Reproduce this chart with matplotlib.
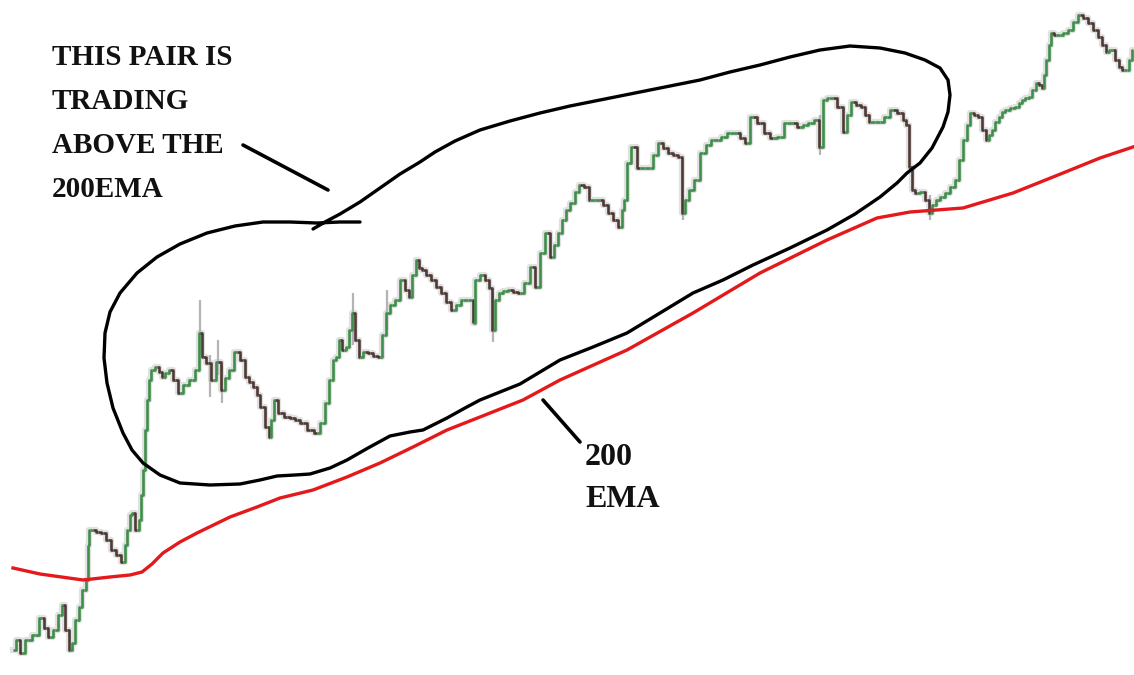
import numpy as np
import matplotlib.pyplot as plt
from matplotlib.collections import LineCollection
from matplotlib.transforms import Affine2D

W, H = 1134, 675

# bar position (time) and close level
bar_x = [13, 18, 22, 28, 35, 42, 46, 50, 55, 60, 63, 67, 70, 73, 77, 80, 84, 87, 88, 90,
         93, 98, 103, 108, 113, 118, 123, 126, 128, 131, 133, 137, 140, 142, 144, 146, 148, 150, 152, 157,
         160, 163, 167, 170, 175, 180, 186, 192, 197, 200, 203, 208, 213, 218, 223, 227, 230, 237, 243, 247,
         251, 255, 258, 262, 267, 270, 272, 275, 280, 287, 292, 297, 303, 310, 317, 322, 327, 331, 334, 337,
         340, 344, 347, 350, 353, 357, 360, 365, 370, 375, 380, 384, 387, 392, 397, 403, 407, 410, 414, 417,
         420, 423, 428, 433, 438, 443, 448, 453, 458, 463, 468, 472, 473, 477, 483, 487, 490, 493, 497, 500,
         505, 510, 515, 520, 527, 532, 537, 542, 547, 552, 556, 560, 564, 567, 573, 577, 580, 587, 590, 595,
         600, 605, 610, 615, 620, 623, 625, 628, 633, 640, 645, 650, 655, 660, 665, 670, 675, 680, 683, 687,
         690, 697, 703, 708, 713, 718, 723, 730, 737, 742, 747, 753, 760, 767, 773, 780, 787, 793, 800, 805,
         810, 817, 820, 825, 829, 833, 840, 845, 849, 853, 858, 863, 867, 870, 875, 880, 887, 893, 900, 905,
         907, 910, 913, 917, 923, 927, 930, 934, 937, 942, 947, 952, 957, 961, 965, 968, 972, 976, 980, 984,
         987, 990, 993, 997, 1000, 1003, 1007, 1012, 1017, 1020, 1023, 1027, 1030, 1034, 1037, 1040, 1043, 1045, 1047, 1050,
         1052, 1056, 1060, 1065, 1070, 1075, 1080, 1085, 1090, 1095, 1100, 1104, 1107, 1110, 1113, 1117, 1120, 1124, 1127, 1130,
         1133]
close = [25, 35, 22, 35, 40, 57, 47, 38, 45, 60, 70, 45, 25, 32, 55, 68, 85, 95, 130, 145,
         145, 143, 142, 135, 125, 120, 113, 130, 145, 160, 162, 145, 155, 180, 205, 245, 275, 295, 305, 308,
         303, 298, 302, 305, 295, 282, 290, 295, 305, 342, 318, 312, 295, 313, 285, 297, 305, 323, 315, 298,
         293, 288, 280, 268, 248, 238, 255, 275, 262, 258, 257, 255, 252, 245, 242, 252, 272, 295, 315, 318,
         335, 325, 328, 345, 362, 335, 318, 323, 322, 319, 318, 340, 362, 370, 375, 395, 385, 378, 400, 415,
         407, 405, 400, 395, 388, 382, 373, 365, 370, 375, 375, 375, 352, 395, 400, 395, 387, 345, 375, 382,
         384, 385, 383, 382, 392, 408, 388, 422, 442, 418, 430, 442, 455, 465, 472, 483, 490, 488, 475, 475,
         475, 470, 462, 455, 448, 465, 475, 512, 528, 507, 507, 507, 520, 532, 527, 522, 520, 518, 462, 475,
         485, 495, 522, 530, 535, 535, 538, 542, 542, 537, 532, 558, 552, 542, 537, 538, 552, 552, 548, 550,
         552, 555, 528, 575, 577, 577, 568, 543, 560, 573, 570, 568, 560, 553, 553, 553, 558, 565, 562, 555,
         550, 508, 485, 482, 483, 475, 462, 470, 475, 478, 482, 488, 495, 515, 535, 550, 562, 560, 558, 545,
         535, 540, 545, 553, 558, 563, 565, 567, 568, 572, 575, 577, 578, 585, 592, 590, 587, 600, 615, 630,
         642, 640, 640, 642, 645, 653, 660, 657, 652, 645, 638, 630, 623, 625, 625, 615, 608, 605, 605, 615,
         625]

# a few long wicks (bar position, low, high)
wick_x = [200, 210, 218, 222, 353, 387, 493, 683, 820, 930]
wick_lo = [320, 278, 300, 272, 330, 345, 333, 455, 520, 455]
wick_hi = [375, 320, 335, 310, 382, 385, 382, 480, 560, 480]

# 200 EMA
ema_x = [13, 40, 83, 110, 130, 142, 152, 163, 180, 197, 230, 257, 280, 313, 347, 380, 413, 447, 480, 523,
         560, 627, 693, 760, 827, 877, 910, 963, 1013, 1063, 1100, 1133]
ema = [107, 101, 95, 98, 100, 103, 111, 122, 133, 142, 158, 168, 177, 185, 198, 212, 228, 245, 258, 275,
       295, 325, 362, 402, 435, 457, 463, 467, 482, 502, 517, 528]

# hand drawn loop (x right, y down from the top edge)
loop_pts = [(360, 222), (340, 222), (317, 223), (290, 222), (263, 222), (235, 226), (207, 233), (180, 244),
            (157, 257), (137, 273), (120, 293), (110, 312), (105, 333), (104, 358), (107, 383), (113, 408),
            (123, 433), (132, 450), (143, 463), (160, 475), (180, 483), (210, 485), (240, 484), (260, 480),
            (277, 476), (295, 475), (310, 474), (330, 468), (347, 460), (368, 448), (390, 436), (410, 432),
            (423, 430), (447, 418), (465, 408), (480, 400), (500, 392), (520, 384), (540, 372), (560, 360),
            (593, 347), (627, 333), (660, 313), (693, 293), (723, 280), (753, 265), (790, 248), (827, 230),
            (855, 214), (880, 197), (897, 183), (907, 173), (920, 163), (932, 148), (943, 127), (948, 112),
            (950, 95), (948, 80), (940, 68), (925, 60), (905, 53), (880, 48), (850, 46), (820, 50), (790, 57),
            (760, 65), (730, 72), (700, 80), (650, 90), (600, 100), (570, 106), (540, 113), (510, 121),
            (480, 130), (455, 141), (435, 152), (420, 162), (400, 174), (380, 188), (360, 202), (340, 214),
            (325, 222), (313, 229)]
text_pointer = [(243, 145), (328, 190)]
ema_pointer = [(543, 400), (580, 442)]

label_lines = ["THIS PAIR IS", "TRADING", "ABOVE THE", "200EMA"]
ema_label = ["200", "EMA"]

UP = "#3f8f4c"
DOWN = "#4e3a35"
WICK = "#b4b4b4"
EMA_RED = "#e3191c"


def main() -> None:
    fig = plt.figure(figsize=(W / 100, H / 100), dpi=100)
    ax = fig.add_axes([0, 0, 1, 1])
    ax.set_xlim(0, W)
    ax.set_ylim(0, H)
    ax.axis("off")

    # top-down pixel frame for the drawn annotations
    top_down = Affine2D().scale(1, -1).translate(0, H) + ax.transData

    x = np.array(bar_x, dtype=float)
    c = np.array(close, dtype=float)

    # grey fuzz that the wicks give the price line
    ax.plot(x, c, color=WICK, lw=4.5, alpha=0.4, drawstyle="steps-mid", zorder=1)
    ax.vlines(wick_x, wick_lo, wick_hi, color=WICK, lw=1.6, zorder=1)

    # each bar: flat to the midpoint, body up or down, flat to the next bar
    segs = []
    colors = []
    for i in range(len(c) - 1):
        xm = (x[i] + x[i + 1]) / 2
        segs.append([(x[i], c[i]), (xm, c[i]), (xm, c[i + 1]), (x[i + 1], c[i + 1])])
        colors.append(UP if c[i + 1] >= c[i] else DOWN)
    ax.add_collection(LineCollection(segs, colors=colors, linewidths=1.9, zorder=2))

    ax.plot(ema_x, ema, color=EMA_RED, lw=2.4, solid_joinstyle="round", zorder=3)

    lx, ly = zip(*loop_pts)
    ax.plot(lx, ly, color="black", lw=2.4, solid_joinstyle="round", solid_capstyle="round",
            transform=top_down, zorder=4)
    for pts in (text_pointer, ema_pointer):
        px, py = zip(*pts)
        ax.plot(px, py, color="black", lw=2.6, solid_capstyle="round", transform=top_down, zorder=4)

    for i, line in enumerate(label_lines):
        ax.text(52, 65 + i * 44, line, fontsize=21, fontweight="bold", family="Liberation Serif",
                color="#111111", va="baseline", ha="left", transform=top_down)
    for i, line in enumerate(ema_label):
        ax.text(585, 465 + i * 42, line, fontsize=23, fontweight="bold", family="Liberation Serif",
                color="#111111", va="baseline", ha="left", transform=top_down)

    fig.savefig("out.png", dpi=100, facecolor="white")
    plt.close(fig)


if __name__ == "__main__":
    main()
